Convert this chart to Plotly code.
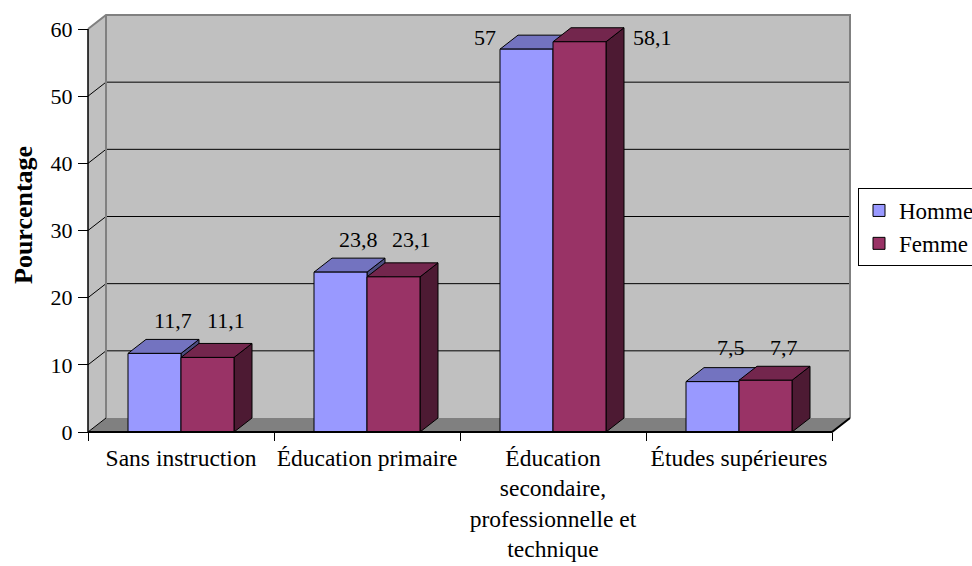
import plotly.graph_objects as go

# ---------------- data ----------------
categories = ["Sans instruction", "Éducation primaire",
              "Éducation<br>secondaire,<br>professionnelle et<br>technique",
              "Études supérieures"]
series_names = ["Homme", "Femme"]
homme = [11.7, 23.8, 57, 7.5]
femme = [11.1, 23.1, 58.1, 7.7]
y_ticks = [0, 10, 20, 30, 40, 50, 60]

# ---------------- geometry / style ----------------
W, H = 972, 566
FONT = "Liberation Serif, Times New Roman, serif"
X_DOM_PX = (84, 855)
X_ORIGIN_PX = 88          # pixel of x = -0.5
UNIT_X = 186.0            # pixels per category
Y_ZERO_PX = 432
UNIT_Y = (432 - 29) / 60.0
Y_DOM_PX = (12, 436)      # top, bottom pixel of plot area
DX = 18 / UNIT_X          # depth offset in data units
DY = 14 / UNIT_Y
BW = 53 / UNIT_X          # bar width
YMAX = 60

colors = {
    "Homme": dict(front="#9999FF", top="#7373C0", side="#4D4D80"),
    "Femme": dict(front="#993366", top="#73264D", side="#4D1A33"),
}

xr = [-0.5 - (X_ORIGIN_PX - X_DOM_PX[0]) / UNIT_X, -0.5 + (X_DOM_PX[1] - X_ORIGIN_PX) / UNIT_X]
yr = [-(Y_DOM_PX[1] - Y_ZERO_PX) / UNIT_Y, (Y_ZERO_PX - Y_DOM_PX[0]) / UNIT_Y]

fig = go.Figure()

# ---------------- walls & floor (shapes) ----------------
shapes = []
x_left, x_right = -0.5, len(categories) - 0.5


def path(pts):
    return "M" + " L".join(f"{x},{y}" for x, y in pts) + " Z"


# back wall
shapes.append(dict(type="rect", xref="x", yref="y", x0=x_left + DX, x1=x_right + DX,
                   y0=DY, y1=YMAX + DY, fillcolor="#C0C0C0", line=dict(width=0), layer="below"))
# left wall
shapes.append(dict(type="path", xref="x", yref="y", layer="below",
                   path=path([(x_left, 0), (x_left + DX, DY), (x_left + DX, YMAX + DY), (x_left, YMAX)]),
                   fillcolor="#C0C0C0", line=dict(width=0)))
# floor
shapes.append(dict(type="path", xref="x", yref="y", layer="below",
                   path=path([(x_left, 0), (x_left + DX, DY), (x_right + DX, DY), (x_right, 0)]),
                   fillcolor="#808080", line=dict(width=0)))
# gridlines
for v in y_ticks[1:-1]:
    shapes.append(dict(type="line", xref="x", yref="y", layer="below",
                       x0=x_left + DX, x1=x_right + DX, y0=v + DY, y1=v + DY,
                       line=dict(color="#000000", width=1)))
    shapes.append(dict(type="line", xref="x", yref="y", layer="below",
                       x0=x_left, x1=x_left + DX, y0=v, y1=v + DY,
                       line=dict(color="#000000", width=1)))
# wall edges (gray)
shapes.append(dict(type="path", xref="x", yref="y", layer="below",
                   path="M{},{} L{},{} L{},{} L{},{}".format(
                       x_left, YMAX, x_left + DX, YMAX + DY, x_right + DX, YMAX + DY,
                       x_right + DX, DY),
                   line=dict(color="#808080", width=2)))
shapes.append(dict(type="line", xref="x", yref="y", layer="below",
                   x0=x_left + DX, x1=x_left + DX, y0=DY, y1=YMAX + DY,
                   line=dict(color="#808080", width=2)))
# floor left diagonal
shapes.append(dict(type="line", xref="x", yref="y", layer="below",
                   x0=x_left, x1=x_left + DX, y0=0, y1=DY, line=dict(color="#000000", width=1)))
# axis lines (above)
shapes.append(dict(type="line", xref="x", yref="y", layer="above",
                   x0=x_left, x1=x_left, y0=0, y1=YMAX, line=dict(color="#000000", width=1.5)))
shapes.append(dict(type="path", xref="x", yref="y", layer="above",
                   path=f"M{x_left},0 L{x_right},0 L{x_right + DX},{DY}",
                   line=dict(color="#000000", width=2)))

# ---------------- bars (3D faces as filled polygons) ----------------
def faces(values, offset):
    side_x, side_y, top_x, top_y, front_x, front_y = [], [], [], [], [], []
    for i, v in enumerate(values):
        x0 = i + offset
        x1 = x0 + BW
        front_x += [x0, x1, x1, x0, x0, None]
        front_y += [0, 0, v, v, 0, None]
        top_x += [x0, x1, x1 + DX, x0 + DX, x0, None]
        top_y += [v, v, v + DY, v + DY, v, None]
        side_x += [x1, x1 + DX, x1 + DX, x1, x1, None]
        side_y += [0, DY, v + DY, v, 0, None]
    return (side_x, side_y), (top_x, top_y), (front_x, front_y)


for name, vals, off in [("Homme", homme, -BW), ("Femme", femme, 0.0)]:
    side, top, front = faces(vals, off)
    c = colors[name]
    for (xs, ys), col in [(side, c["side"]), (top, c["top"]), (front, c["front"])]:
        fig.add_trace(go.Scatter(x=xs, y=ys, mode="lines", fill="toself", fillcolor=col,
                                 line=dict(color="#000000", width=1), hoverinfo="skip",
                                 showlegend=False))

# legend entries
for name in series_names:
    fig.add_trace(go.Bar(x=[None], y=[None], name=name,
                         marker=dict(color=colors[name]["front"], line=dict(color="#000000", width=1))))

# ---------------- data labels ----------------
annotations = []
LABEL_SHIFT = 19
LFS = 22
for i, (h, f) in enumerate(zip(homme, femme)):
    top_pair = max(h, f) + DY
    if top_pair + LABEL_SHIFT / UNIT_Y > YMAX:
        yb = YMAX + DY - 3.3
        annotations.append(dict(x=i - BW, y=yb, xref="x", yref="y", text=f"{h:g}".replace(".", ","),
                                showarrow=False, xanchor="right", yanchor="middle", xshift=-2,
                                font=dict(family=FONT, size=LFS, color="#000")))
        annotations.append(dict(x=i + BW + DX, y=yb, xref="x", yref="y", text=f"{f:g}".replace(".", ","),
                                showarrow=False, xanchor="left", yanchor="middle", xshift=7,
                                font=dict(family=FONT, size=LFS, color="#000")))
    else:
        for v, off in [(h, -BW), (f, 0.0)]:
            annotations.append(dict(x=i + off + BW / 2 + DX, y=top_pair, xref="x", yref="y",
                                    text=f"{v:g}".replace(".", ","), showarrow=False,
                                    yanchor="middle", yshift=LABEL_SHIFT,
                                    font=dict(family=FONT, size=LFS, color="#000")))

annotations.append(dict(x=23 / W, y=1 - 215 / H, xref="paper", yref="paper", text="<b>Pourcentage</b>",
                        textangle=-90, showarrow=False, xanchor="center", yanchor="middle",
                        font=dict(family=FONT, size=26, color="#000")))

fig.update_layout(
    width=W, height=H,
    margin=dict(l=0, r=0, t=0, b=0, autoexpand=False),
    paper_bgcolor="white", plot_bgcolor="rgba(0,0,0,0)",
    font=dict(family=FONT, size=23, color="#000"),
    shapes=shapes, annotations=annotations,
    showlegend=True,
    legend=dict(x=858 / W, y=1 - 188 / H, xanchor="left", yanchor="top",
                bgcolor="white", bordercolor="#000000", borderwidth=1,
                font=dict(family=FONT, size=23, color="#000"), tracegroupgap=4),
    xaxis=dict(domain=[X_DOM_PX[0] / W, X_DOM_PX[1] / W], range=xr, anchor="free",
               position=(H - Y_ZERO_PX) / H,
               tickmode="array", tickvals=list(range(len(categories))), ticktext=categories,
               ticks="", showgrid=False, zeroline=False, showline=False,
               tickfont=dict(family=FONT, size=23.5, color="#000"), ticklabelstandoff=9,
               minor=dict(tickmode="array", tickvals=[k - 0.5 for k in range(len(categories) + 1)],
                          ticks="outside", ticklen=8, tickcolor="#000", tickwidth=1, showgrid=False)),
    yaxis=dict(domain=[(H - Y_DOM_PX[1]) / H, (H - Y_DOM_PX[0]) / H], range=yr, anchor="free",
               position=X_ORIGIN_PX / W,
               tickmode="array", tickvals=y_ticks, ticks="outside", ticklen=10, tickcolor="#000",
               showgrid=False, zeroline=False, showline=False, ticklabelstandoff=1,
               tickfont=dict(family=FONT, size=22, color="#000")),
)

fig.write_html("out.html")
